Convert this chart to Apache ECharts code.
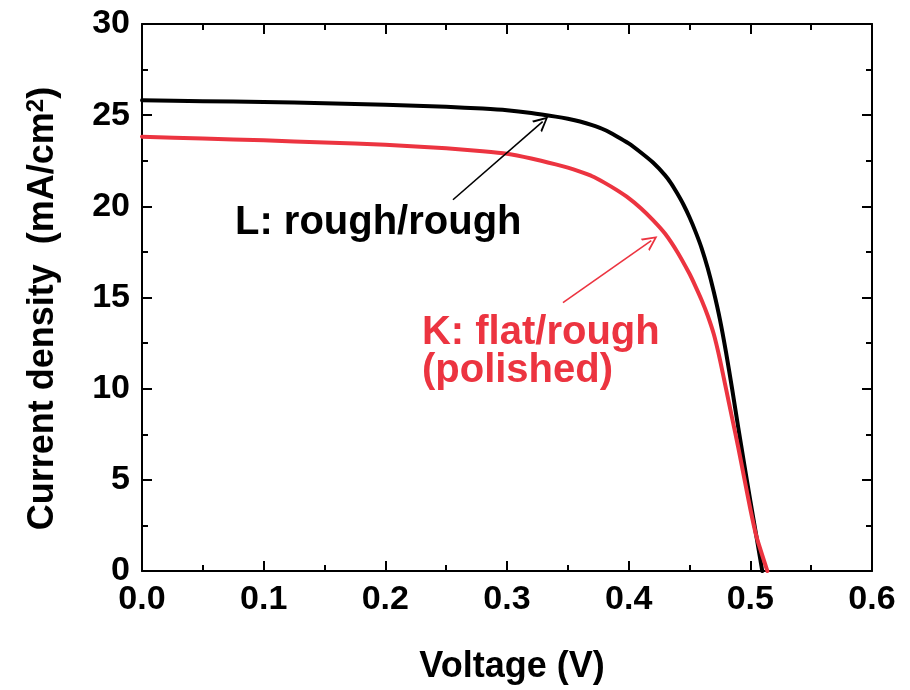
<!DOCTYPE html>
<html><head><meta charset="utf-8">
<script src="https://cdn.jsdelivr.net/npm/echarts@6/dist/echarts.min.js"></script>
<style>html,body{margin:0;padding:0;background:#fff}#c{width:910px;height:690px}</style>
</head><body><div id="c"></div>
<script>
// Sample L: rough/rough (black)
const voltageL = [0, 0.05, 0.1, 0.15, 0.2, 0.25, 0.28, 0.30, 0.32, 0.34, 0.35, 0.36, 0.37, 0.38, 0.39, 0.40, 0.41, 0.42, 0.43, 0.435, 0.44, 0.445, 0.45, 0.455, 0.46, 0.465, 0.47, 0.475, 0.48, 0.485, 0.49, 0.495, 0.50, 0.505, 0.5098];
const currentL = [25.82, 25.77, 25.72, 25.66, 25.57, 25.46, 25.36, 25.27, 25.12, 24.92, 24.8, 24.65, 24.45, 24.2, 23.85, 23.45, 22.95, 22.4, 21.7, 21.25, 20.7, 20.1, 19.4, 18.6, 17.7, 16.6, 15.3, 13.8, 12.0, 10.0, 7.9, 5.85, 3.85, 1.9, 0];
// Sample K: flat/rough (polished) (red)
const voltageK = [0, 0.05, 0.1, 0.15, 0.2, 0.25, 0.28, 0.30, 0.32, 0.34, 0.35, 0.36, 0.37, 0.38, 0.39, 0.40, 0.41, 0.42, 0.43, 0.44, 0.45, 0.455, 0.46, 0.465, 0.47, 0.475, 0.48, 0.485, 0.49, 0.495, 0.50, 0.505, 0.514];
const currentK = [23.82, 23.72, 23.62, 23.5, 23.38, 23.18, 23.02, 22.88, 22.62, 22.3, 22.12, 21.9, 21.65, 21.3, 20.9, 20.45, 19.9, 19.25, 18.5, 17.5, 16.3, 15.6, 14.85, 14.0, 12.98, 11.6, 10.0, 8.4, 6.8, 5.1, 3.4, 1.9, 0];
// annotation texts and anchor points (data units)
const labelTexts = ['L: rough/rough', 'K: flat/rough', '(polished)'];
const labelX = [0.0764, 0.2301, 0.2301];
const labelY = [19.1, 13.08, 10.95];
const arrowTail = [[0.2556, 20.36], [0.346, 14.72]];
const arrowHead = [[0.3293, 24.65], [0.4186, 18.12]];

const BLACK = '#000000', RED = '#ec3440';
const FONT = '"Liberation Sans", Arial, sans-serif';
const colors = [BLACK, RED, RED];
const chevron = 'path://M50,0 L100,100 L86,100 L50,26 L14,100 L0,100 Z';

const chart = echarts.init(document.getElementById('c'), null, {renderer: 'canvas'});
const pairs = (xs, ys) => xs.map((x, i) => [x, ys[i]]);

const axisCommon = {
  axisLine: {show: true, onZero: false, lineStyle: {color: '#000', width: 2}},
  axisTick: {show: true, inside: true, length: 10, lineStyle: {color: '#000', width: 2}},
  minorTick: {show: true, splitNumber: 2, length: 6, lineStyle: {color: '#000', width: 2}},
  splitLine: {show: false}
};

chart.setOption({
  animation: false,
  backgroundColor: '#fff',
  grid: {left: 142, right: 38, top: 24, bottom: 118, containLabel: false},
  xAxis: [
    Object.assign({
      type: 'value', min: 0, max: 0.6, interval: 0.1, position: 'bottom',
      name: 'Voltage (V)', nameLocation: 'middle', nameGap: 78,
      nameTextStyle: {fontFamily: FONT, fontWeight: 'bold', fontSize: 36, color: '#000', padding: [0, 0, 0, 10]},
      axisLabel: {margin: 12, fontFamily: FONT, fontWeight: 'bold', fontSize: 34, color: '#000',
        formatter: v => v.toFixed(1)}
    }, axisCommon),
    Object.assign({
      type: 'value', min: 0, max: 0.6, interval: 0.1, position: 'top',
      axisLabel: {show: false}
    }, axisCommon)
  ],
  yAxis: [
    Object.assign({
      type: 'value', min: 0, max: 30, interval: 5, position: 'left',
      name: 'Current density  (mA/cm{sup|2})', nameLocation: 'middle', nameGap: 80,
      nameTextStyle: {fontFamily: FONT, fontWeight: 'bold', fontSize: 36, color: '#000', padding: [0, 22, 0, 0],
        rich: {sup: {fontFamily: FONT, fontWeight: 'bold', fontSize: 24, color: '#000', verticalAlign: 'top', padding: [0,0,14,0]}}},
      axisLabel: {margin: 12, fontFamily: FONT, fontWeight: 'bold', fontSize: 34, color: '#000'}
    }, axisCommon),
    Object.assign({
      type: 'value', min: 0, max: 30, interval: 5, position: 'right',
      axisLabel: {show: false}
    }, axisCommon)
  ],
  series: [
    {
      name: 'L', type: 'line', xAxisIndex: 0, yAxisIndex: 0,
      data: pairs(voltageL, currentL), showSymbol: false, smooth: 0.2,
      lineStyle: {color: BLACK, width: 4, join: 'round', cap: 'round'}, itemStyle: {color: BLACK}, z: 3
    },
    {
      name: 'K', type: 'line', xAxisIndex: 0, yAxisIndex: 0,
      data: pairs(voltageK, currentK), showSymbol: false, smooth: 0.2,
      lineStyle: {color: RED, width: 4, join: 'round', cap: 'round'}, itemStyle: {color: RED}, z: 4
    },
    {
      name: 'notes', type: 'scatter', xAxisIndex: 0, yAxisIndex: 0,
      symbolSize: 0, silent: true, z: 5, itemStyle: {opacity: 1},
      data: labelTexts.map((t, i) => ({
        value: [labelX[i], labelY[i]],
        label: {show: true, position: [0, 0], align: 'left', verticalAlign: 'middle', opacity: 1,
          formatter: t, fontFamily: FONT, fontWeight: 'bold', fontSize: 40, color: colors[i]}
      })),
      markLine: {
        silent: true, animation: false,
        symbol: ['none', chevron], symbolSize: [15, 15],
        label: {show: false},
        data: arrowTail.map((tail, i) => [
          {coord: tail, lineStyle: {color: i === 0 ? BLACK : RED, width: 1.6, type: 'solid', opacity: 1}},
          {coord: arrowHead[i], lineStyle: {color: i === 0 ? BLACK : RED, width: 1.6, type: 'solid', opacity: 1}, itemStyle: {color: i === 0 ? BLACK : RED}}
        ])
      }
    }
  ]
});
</script>
</body></html>
